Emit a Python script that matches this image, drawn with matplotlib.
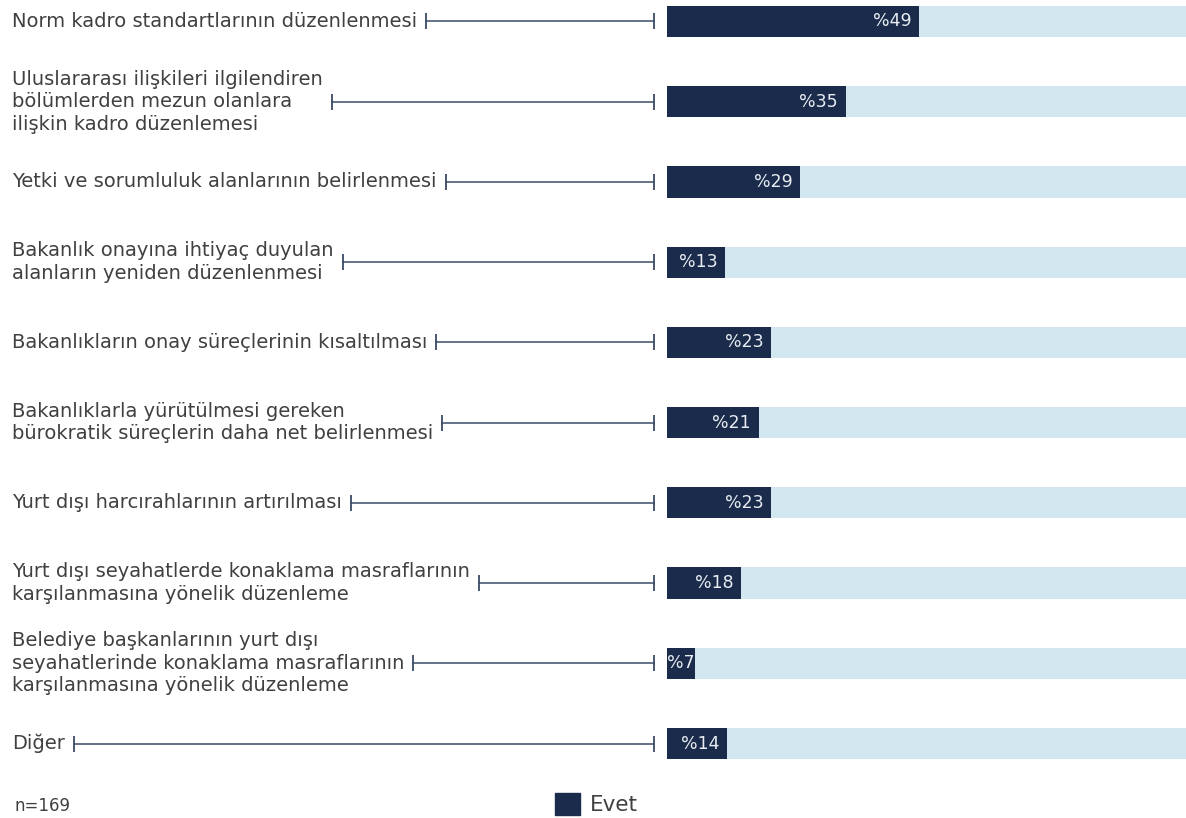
import matplotlib
matplotlib.use("Agg")
import matplotlib.pyplot as plt
from matplotlib.transforms import blended_transform_factory
from matplotlib.patches import Patch
from matplotlib.lines import Line2D

categories = [
    "Norm kadro standartlarının düzenlenmesi",
    "Uluslararası ilişkileri ilgilendiren\nbölümlerden mezun olanlara\nilişkin kadro düzenlemesi",
    "Yetki ve sorumluluk alanlarının belirlenmesi",
    "Bakanlık onayına ihtiyaç duyulan\nalanların yeniden düzenlenmesi",
    "Bakanlıkların onay süreçlerinin kısaltılması",
    "Bakanlıklarla yürütülmesi gereken\nbürokratik süreçlerin daha net belirlenmesi",
    "Yurt dışı harcırahlarının artırılması",
    "Yurt dışı seyahatlerde konaklama masraflarının\nkarşılanmasına yönelik düzenleme",
    "Belediye başkanlarının yurt dışı\nseyahatlerinde konaklama masraflarının\nkarşılanmasına yönelik düzenleme",
    "Diğer",
]
# bar lengths as drawn (share of full track), and printed labels
bar_values = [48.6, 34.5, 25.7, 11.2, 20.1, 17.7, 20.1, 14.3, 5.4, 11.6]
value_labels = ["%49", "%35", "%29", "%13", "%23", "%21", "%23", "%18", "%7", "%14"]
full_value = [100] * len(categories)
legend_label = "Evet"
note = "n=169"

DARK = "#1b2b4b"
LIGHT = "#d2e6ef"
TEXT = "#404040"
LINE = "#3a4a66"

W, H = 1186, 818
fig = plt.figure(figsize=(W / 100, H / 100), dpi=100)
plt.rcParams["font.family"] = ["DejaVu Sans"]

ax = fig.add_axes([667 / W, (H - 765) / H, 519 / W, 765 / H])
ypos = list(range(len(categories)))
ax.barh(ypos, full_value, height=0.39, color=LIGHT, zorder=1)
ax.barh(ypos, bar_values, height=0.39, color=DARK, zorder=2)
ax.set_xlim(0, 100)
ax.set_ylim(9.268, -0.268)
ax.axis("off")

px = 100 / 519.0  # data units per pixel along x
vtexts = []
for y, v, lab in zip(ypos, bar_values, value_labels):
    t = ax.text(v - 8 * px, y, lab, ha="right", va="center", color="#e8edf3",
                fontsize=12.5, zorder=3)
    vtexts.append(t)

trans = blended_transform_factory(fig.transFigure, ax.transData)
texts = []
for y, cat in zip(ypos, categories):
    t = ax.text(12 / W, y, cat, transform=trans, ha="left", va="center",
                fontsize=14.0, color=TEXT, linespacing=1.24, clip_on=False)
    texts.append(t)

fig.canvas.draw()
renderer = fig.canvas.get_renderer()
x_start = ax.transData.transform((0, 0))[0]
for t, v in zip(vtexts, bar_values):
    bb = t.get_window_extent(renderer)
    if bb.x0 < x_start:
        t.set_ha("left")
        t.set_x(0)

for y, t in zip(ypos, texts):
    bb = t.get_window_extent(renderer)
    x0 = (bb.x1 + 9) / W
    x1 = 654 / W
    ln = Line2D([x0, x1], [y, y], transform=trans, color=LINE, lw=1.1,
                marker="|", markersize=11, markeredgewidth=1.3, clip_on=False)
    ax.add_line(ln)

fig.legend(handles=[Patch(facecolor=DARK, edgecolor=DARK, label=legend_label)],
           loc="center left", bbox_to_anchor=(555 / W, 1 - 804 / H),
           frameon=False, fontsize=15.5, handlelength=1.14, handleheight=1.18,
           handletextpad=0.5, borderpad=0, borderaxespad=0, labelcolor=TEXT)
fig.text(14 / W, 1 - 806 / H, note, ha="left", va="center", fontsize=12,
         color=TEXT)

fig.savefig("out.png", dpi=100, facecolor="white")
